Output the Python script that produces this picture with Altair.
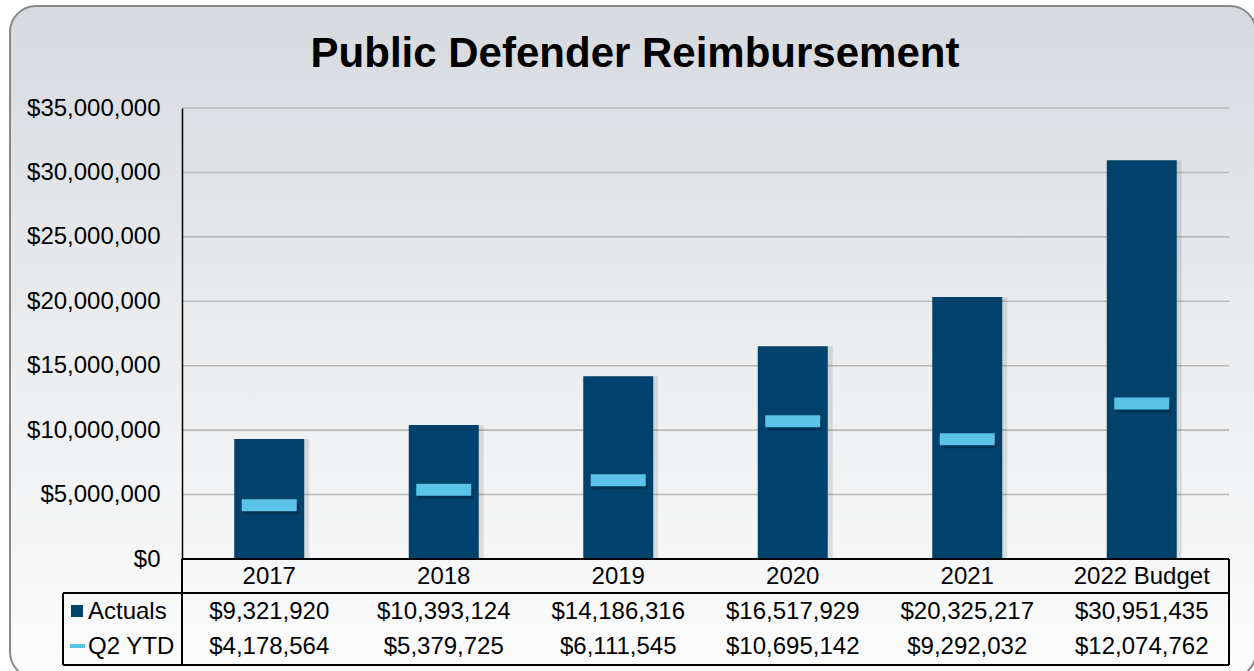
import altair as alt
import pandas as pd

years = ["2017", "2018", "2019", "2020", "2021", "2022 Budget"]
actuals = [9321920, 10393124, 14186316, 16517929, 20325217, 30951435]
q2_ytd = [4178564, 5379725, 6111545, 10695142, 9292032, 12074762]
y_ticks = [0, 5000000, 10000000, 15000000, 20000000, 25000000, 30000000, 35000000]
title_text = "Public Defender Reimbursement"

NAVY = "#00426b"
LIGHT = "#5bc3e8"
FONT = "Liberation Sans"
FS = 24

df = pd.DataFrame({"year": years, "actuals": actuals, "q2": q2_ytd})
df["act_lbl"] = ["${:,.0f}".format(v) for v in actuals]
df["q2_lbl"] = ["${:,.0f}".format(v) for v in q2_ytd]
grid_df = pd.DataFrame({"v": y_ticks})

W, H = 1047, 451
xs = alt.Scale(domain=years, paddingInner=0, paddingOuter=0)
ys = alt.Scale(domain=[0, 35000000], nice=False)

one = alt.Data(values=[{"a": 1}])

bg = alt.Chart(one).mark_rect(
    fill=alt.LinearGradient(
        gradient="linear", x1=0, y1=0, x2=0, y2=1,
        stops=[alt.GradientStop(color="#d6dadf", offset=0),
               alt.GradientStop(color="#e9ebed", offset=0.45),
               alt.GradientStop(color="#fcfcfc", offset=1)]),
    stroke="#888888", strokeWidth=2, cornerRadius=26,
).encode(x=alt.value(-172), x2=alt.value(1074), y=alt.value(-102), y2=alt.value(570))

grid = alt.Chart(grid_df).mark_rule(color="#b9b9b9", strokeWidth=1.6).encode(
    y=alt.Y("v:Q", scale=ys,
            axis=alt.Axis(values=y_ticks, format="$,.0f", title=None, grid=False,
                          ticks=False, domain=True, domainColor="black", domainWidth=1.5,
                          labelFont=FONT, labelFontSize=FS, labelColor="black",
                          labelPadding=22, zindex=1)),
    x=alt.value(0), x2=alt.value(W),
)

shadow = alt.Chart(df).mark_bar(size=70, color="#000000", opacity=0.10, xOffset=5).encode(
    x=alt.X("year:N", scale=xs, axis=None, sort=years),
    y=alt.Y("actuals:Q", scale=ys),
)
bars = alt.Chart(df).mark_bar(size=70, color=NAVY).encode(
    x=alt.X("year:N", scale=xs, axis=None, sort=years),
    y=alt.Y("actuals:Q", scale=ys),
)
tick_shadow = alt.Chart(df).mark_tick(size=55, thickness=10, color="#00203a", opacity=0.45, yOffset=4, xOffset=2).encode(
    x=alt.X("year:N", scale=xs, sort=years),
    y=alt.Y("q2:Q", scale=ys),
)
ticks = alt.Chart(df).mark_tick(size=55, thickness=12, color=LIGHT, opacity=1).encode(
    x=alt.X("year:N", scale=xs, sort=years),
    y=alt.Y("q2:Q", scale=ys),
)

def txt(field, ypix):
    return alt.Chart(df).mark_text(font=FONT, fontSize=FS, color="black", baseline="alphabetic", align="center").encode(
        x=alt.X("year:N", scale=xs, sort=years),
        y=alt.value(ypix),
        text=alt.Text(field),
    )

year_txt = txt("year:N", 476)
act_txt = txt("act_lbl:N", 511)
q2_txt = txt("q2_lbl:N", 546)

def rule(x1, x2, y1, y2, w=2):
    return alt.Chart(one).mark_rule(color="black", strokeWidth=w).encode(
        x=alt.value(x1), x2=alt.value(x2), y=alt.value(y1), y2=alt.value(y2))

lines = [
    rule(0, W, H, H),
    rule(-119, W, 485, 485),
    rule(-119, W, 557, 557),
    rule(0, 0, H, 557),
    rule(-119, -119, 485, 557),
    rule(W, W, H, 557),
]

leg_sq = alt.Chart(one).mark_rect(color=NAVY).encode(
    x=alt.value(-111), x2=alt.value(-99), y=alt.value(497), y2=alt.value(509))
leg_line = alt.Chart(one).mark_rule(color=LIGHT, strokeWidth=4).encode(
    x=alt.value(-112), x2=alt.value(-97), y=alt.value(538), y2=alt.value(538))
leg_t1 = alt.Chart(one).mark_text(font=FONT, fontSize=FS, align="left", baseline="alphabetic", text="Actuals").encode(
    x=alt.value(-94), y=alt.value(511))
leg_t2 = alt.Chart(one).mark_text(font=FONT, fontSize=FS, align="left", baseline="alphabetic", text="Q2 YTD").encode(
    x=alt.value(-94), y=alt.value(546))

title = alt.Chart(one).mark_text(font=FONT, fontSize=42, fontWeight="bold", align="center",
                                 baseline="alphabetic", text=title_text, color="black").encode(
    x=alt.value(453), y=alt.value(-41))

chart = alt.layer(
    bg, grid, shadow, bars, tick_shadow, ticks, year_txt, act_txt, q2_txt, *lines,
    leg_sq, leg_line, leg_t1, leg_t2, title,
).properties(
    width=W, height=H,
    autosize=alt.AutoSizeParams(type="none"),
    padding={"left": 182, "top": 108, "right": 25, "bottom": 112},
    background="white",
).configure_view(stroke=None)

chart.save("out.html", embed_options={"renderer": "svg", "actions": False})
